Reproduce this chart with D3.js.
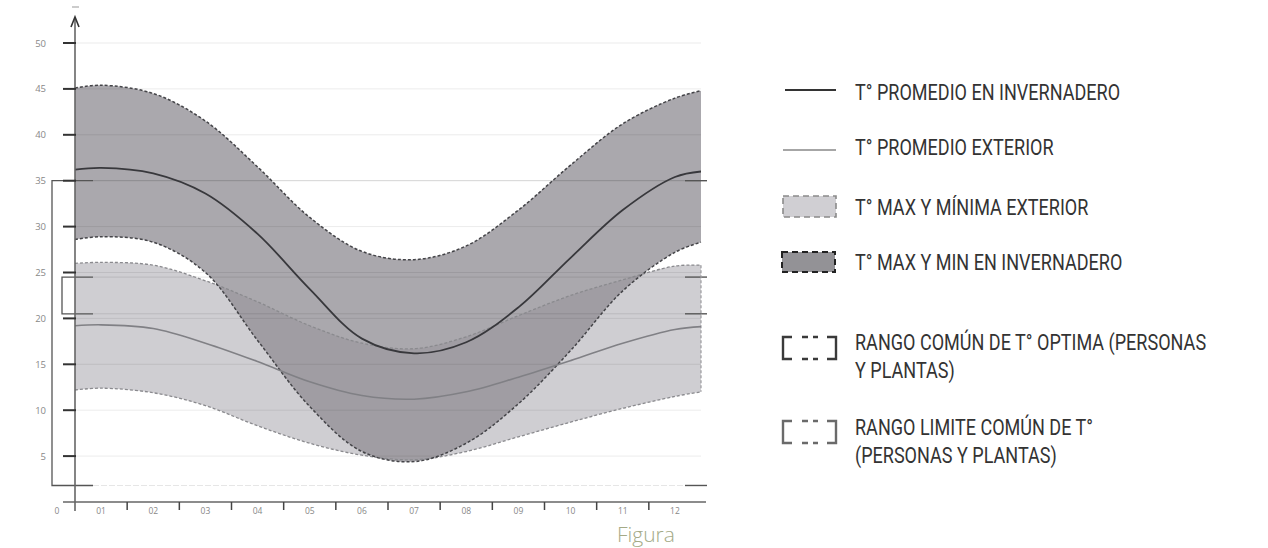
<!DOCTYPE html>
<html>
<head>
<meta charset="utf-8">
<script src="https://cdn.jsdelivr.net/npm/d3@7"></script>
<style>
  body { margin: 0; background: #fff; }
  svg { display: block; }
</style>
</head>
<body>
<div id="chart"></div>
<script>
// Temperatura mensual: invernadero vs exterior
const months = ["01", "02", "03", "04", "05", "06", "07", "08", "09", "10", "11", "12"];
// positions along the month axis (0 = start of 01, 12 = end of 12)
const tPos = [0, 0.5, 1.5, 2.5, 3.5, 4.5, 5.5, 6.5, 7.5, 8.5, 9.5, 10.5, 11.5, 12];

const ghMax = [45.1, 45.4, 44.5, 41.5, 36.5, 31.0, 27.3, 26.4, 27.9, 31.8, 36.7, 41.2, 44.0, 44.8];
const ghAvg = [36.2, 36.4, 35.8, 33.6, 29.2, 23.2, 17.8, 16.2, 17.4, 21.2, 26.6, 31.8, 35.4, 36.0];
const ghMin = [28.6, 28.9, 28.3, 25.0, 17.6, 10.4, 5.5, 4.4, 6.4, 10.7, 16.5, 23.0, 27.2, 28.3];
const exMax = [26.0, 26.1, 25.8, 24.1, 21.8, 19.2, 17.3, 16.7, 18.0, 20.3, 22.5, 24.2, 25.7, 25.8];
const exAvg = [19.2, 19.3, 18.9, 17.3, 15.3, 13.1, 11.6, 11.2, 12.0, 13.6, 15.4, 17.3, 18.8, 19.1];
const exMin = [12.2, 12.4, 11.9, 10.5, 8.3, 6.4, 5.1, 4.6, 5.5, 7.1, 8.7, 10.2, 11.5, 12.0];

const yTicks = [5, 10, 15, 20, 25, 30, 35, 40, 45, 50];
const optimalRange = [20.5, 24.5];   // rango común de T° óptima
const limitRange = [1.8, 35];        // rango límite común de T°

const legendLabels = [
  ["T° PROMEDIO EN INVERNADERO"],
  ["T° PROMEDIO EXTERIOR"],
  ["T° MAX Y MÍNIMA EXTERIOR"],
  ["T° MAX Y MIN EN INVERNADERO"],
  ["RANGO COMÚN DE T° OPTIMA (PERSONAS", "Y PLANTAS)"],
  ["RANGO LIMITE COMÚN DE T°", "(PERSONAS Y PLANTAS)"]
];
const legendKinds = ["ghLine", "exLine", "exBand", "ghBand", "optBracket", "limBracket"];

const W = 1268, H = 548;
const svg = d3.select("#chart").append("svg")
  .attr("width", W)
  .attr("height", H);

const x = d3.scaleLinear().domain([0, 12]).range([75, 701]);
const y = d3.scaleLinear().domain([0, 50]).range([502, 43]);

const rows = tPos.map(function(t, i) {
  return { t: t, ghMax: ghMax[i], ghAvg: ghAvg[i], ghMin: ghMin[i],
           exMax: exMax[i], exAvg: exAvg[i], exMin: exMin[i] };
});

const curve = d3.curveCatmullRom.alpha(0.5);
function band(lo, hi) {
  return d3.area().curve(curve)
    .x(function(d) { return x(d.t); })
    .y0(function(d) { return y(d[lo]); })
    .y1(function(d) { return y(d[hi]); });
}
function line(k) {
  return d3.line().curve(curve)
    .x(function(d) { return x(d.t); })
    .y(function(d) { return y(d[k]); });
}

// bands
svg.append("path").datum(rows).attr("d", band("exMin", "exMax"))
  .attr("fill", "#cfced2");
svg.append("path").datum(rows).attr("d", band("ghMin", "ghMax"))
  .attr("fill", "#928f96").attr("fill-opacity", 0.78);

// gridlines
svg.append("g").selectAll("line").data(yTicks).enter().append("line")
  .attr("x1", x(0)).attr("x2", x(12))
  .attr("y1", function(d) { return y(d); }).attr("y2", function(d) { return y(d); })
  .attr("stroke", "#000").attr("stroke-opacity", 0.08);

// range reference lines across the plot
const rangeLevels = [limitRange[1], optimalRange[1], optimalRange[0], limitRange[0]];
svg.append("g").selectAll("line").data(rangeLevels).enter().append("line")
  .attr("x1", 93).attr("x2", 685)
  .attr("y1", function(d) { return y(d); }).attr("y2", function(d) { return y(d); })
  .attr("stroke", "#000").attr("stroke-opacity", 0.1)
  .attr("stroke-dasharray", function(d) { return d === limitRange[0] ? "6,2" : null; });
// right short marks
svg.append("g").selectAll("line").data(rangeLevels).enter().append("line")
  .attr("x1", 685).attr("x2", 707)
  .attr("y1", function(d) { return y(d); }).attr("y2", function(d) { return y(d); })
  .attr("stroke", "#555").attr("stroke-width", 1.4);

// left brackets
function bracket(lo, hi, bx) {
  svg.append("path")
    .attr("d", "M93," + y(hi) + "H" + bx + "V" + y(lo) + "H93")
    .attr("fill", "none").attr("stroke", "#555").attr("stroke-width", 1.3);
}
bracket(limitRange[0], limitRange[1], 52);
bracket(optimalRange[0], optimalRange[1], 62);

// exterior dashed limits
["exMax", "exMin"].forEach(function(k) {
  svg.append("path").datum(rows).attr("d", line(k))
    .attr("fill", "none").attr("stroke", "#8a8a8e").attr("stroke-width", 1.3)
    .attr("stroke-dasharray", "3,2");
});
svg.append("line")
  .attr("x1", x(12)).attr("x2", x(12))
  .attr("y1", y(exMax[exMax.length - 1])).attr("y2", y(exMin[exMin.length - 1]))
  .attr("stroke", "#9a9a9e").attr("stroke-width", 1.2).attr("stroke-dasharray", "3,2");

// greenhouse dashed limits
["ghMax", "ghMin"].forEach(function(k) {
  svg.append("path").datum(rows).attr("d", line(k))
    .attr("fill", "none").attr("stroke", "#444448").attr("stroke-width", 1.5)
    .attr("stroke-dasharray", "3,2");
});

// averages
svg.append("path").datum(rows).attr("d", line("exAvg"))
  .attr("fill", "none").attr("stroke", "#808085").attr("stroke-width", 1.6);
svg.append("path").datum(rows).attr("d", line("ghAvg"))
  .attr("fill", "none").attr("stroke", "#38383c").attr("stroke-width", 1.8);

// y axis
svg.append("line").attr("x1", 75).attr("x2", 75).attr("y1", 511).attr("y2", 19)
  .attr("stroke", "#666").attr("stroke-width", 1.6);
svg.append("path").attr("d", "M71,27L75,17L79,27")
  .attr("fill", "none").attr("stroke", "#333").attr("stroke-width", 1.6);
svg.append("line").attr("x1", 72).attr("x2", 79).attr("y1", 7).attr("y2", 7)
  .attr("stroke", "#999").attr("stroke-width", 1);

const yAxis = svg.append("g");
yAxis.selectAll("line").data(yTicks).enter().append("line")
  .attr("x1", 63).attr("x2", 76)
  .attr("y1", function(d) { return y(d); }).attr("y2", function(d) { return y(d); })
  .attr("stroke", "#333").attr("stroke-width", 2);
yAxis.selectAll("text").data(yTicks).enter().append("text")
  .attr("x", 46).attr("y", function(d) { return y(d) + 3.5; })
  .attr("text-anchor", "end")
  .style("font-family", "'Open Sans', sans-serif")
  .style("font-size", "9.5px")
  .style("fill", "#888")
  .text(function(d) { return d; });

// x axis
svg.append("line").attr("x1", 63).attr("x2", 706).attr("y1", 502).attr("y2", 502)
  .attr("stroke", "#666").attr("stroke-width", 1.6);
const xBounds = d3.range(1, 12);
svg.append("g").selectAll("line").data(xBounds).enter().append("line")
  .attr("x1", function(d) { return x(d); }).attr("x2", function(d) { return x(d); })
  .attr("y1", 502).attr("y2", 510)
  .attr("stroke", "#444").attr("stroke-width", 1.5);
svg.append("g").selectAll("text").data(months).enter().append("text")
  .attr("x", function(d, i) { return x(i + 0.5); })
  .attr("y", 514)
  .attr("text-anchor", "middle")
  .style("font-family", "'Open Sans', sans-serif")
  .style("font-size", "8.5px")
  .style("fill", "#888")
  .text(function(d) { return d; });
svg.append("text").attr("x", 57).attr("y", 514).attr("text-anchor", "middle")
  .style("font-family", "'Open Sans', sans-serif")
  .style("font-size", "8.5px").style("fill", "#888").text("0");

// legend
const legendY = [92, 147, 207, 262, 342, 427];
const iconX = 783, iconW = 53, textX = 855;
function drawBracketIcon(g, cy, color) {
  const top = cy - 11, bot = cy + 11;
  g.append("path")
    .attr("d", "M792," + top + "H" + iconX + "V" + bot + "H792" +
               "M827," + top + "H836V" + bot + "H827" +
               "M802," + top + "H808M813," + top + "H818" +
               "M802," + bot + "H808M813," + bot + "H818")
    .attr("fill", "none").attr("stroke", color).attr("stroke-width", 2.4);
}
legendKinds.forEach(function(kind, i) {
  const cy = legendY[i];
  const g = svg.append("g");
  if (kind === "ghLine") {
    g.append("line").attr("x1", iconX + 2).attr("x2", iconX + iconW).attr("y1", cy - 2).attr("y2", cy - 2)
      .attr("stroke", "#333").attr("stroke-width", 2);
  } else if (kind === "exLine") {
    g.append("line").attr("x1", iconX).attr("x2", iconX + iconW).attr("y1", cy + 3).attr("y2", cy + 3)
      .attr("stroke", "#888").attr("stroke-width", 1.6);
  } else if (kind === "exBand") {
    g.append("rect").attr("x", iconX).attr("y", cy - 11).attr("width", iconW).attr("height", 21)
      .attr("fill", "#d0cfd3").attr("stroke", "#8a8a8a").attr("stroke-width", 1.6)
      .attr("stroke-dasharray", "6,4");
  } else if (kind === "ghBand") {
    g.append("rect").attr("x", iconX - 1).attr("y", cy - 10).attr("width", iconW).attr("height", 20)
      .attr("fill", "#939296").attr("stroke", "#222").attr("stroke-width", 2)
      .attr("stroke-dasharray", "6,4");
  } else if (kind === "optBracket") {
    drawBracketIcon(g, cy + 6, "#3a3a3a");
  } else {
    drawBracketIcon(g, cy + 5, "#6a6a6a");
  }
  legendLabels[i].forEach(function(txt, j) {
    g.append("text")
      .attr("transform", "translate(" + textX + "," + (cy + 8 + j * 28) + ") scale(0.82,1)")
      .style("font-family", "Roboto, sans-serif")
      .style("font-size", "22px")
      .style("fill", "#333")
      .text(txt);
  });
});

// caption fragment
svg.append("text").attr("x", 617).attr("y", 542)
  .style("font-family", "'Open Sans', sans-serif")
  .style("font-weight", 300)
  .style("font-size", "21px")
  .style("fill", "#a4aa86")
  .text("Figura");
</script>
</body>
</html>
